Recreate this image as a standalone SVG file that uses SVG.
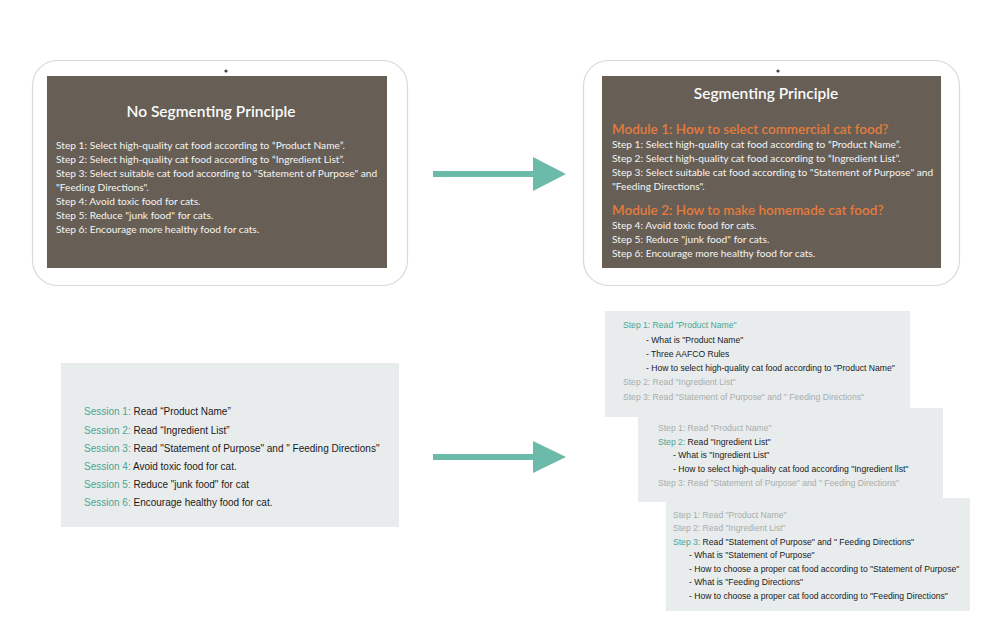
<svg xmlns="http://www.w3.org/2000/svg" width="990" height="620" viewBox="0 0 990 620">
<style>
.tab{fill:#fff;stroke:#d9d9d9;stroke-width:1.2}
.scr{fill:#675f55}
.cam{fill:#444}
.ttl{font-family:Lato,"Open Sans",sans-serif;font-size:15.5px;font-weight:600;fill:#fafafa;text-anchor:middle}
.bd{font-family:Lato,"Open Sans",sans-serif;font-size:10.2px;fill:#f4f4f4}
.mod{font-family:Lato,"Open Sans",sans-serif;font-size:13.5px;font-weight:600;fill:#e47b3c}
.box{fill:#e8eced}
.ss{font-family:"Liberation Sans",Arial,sans-serif;font-size:10px;fill:#1a1a1a}
.cd{font-family:"Liberation Sans",Arial,sans-serif;font-size:8.6px;fill:#1a1a1a}
.tl{fill:#4aa594}
.gr{fill:#a9acac}
.arr{fill:#6bbaaa}
</style>
<rect width="990" height="620" fill="#fff"/>
<g id="tablet-left">
<rect class="tab" x="32.5" y="60.5" width="375" height="225" rx="25"/>
<rect class="scr" x="47" y="76" width="340" height="192"/>
<circle class="cam" cx="226" cy="71" r="1.6"/>
<text class="ttl" x="211" y="117">No Segmenting Principle</text>
<text class="bd" x="56" y="149">Step 1: Select high-quality cat food according to “Product Name”.</text>
<text class="bd" x="56" y="163">Step 2: Select high-quality cat food according to “Ingredient List”.</text>
<text class="bd" x="56" y="177">Step 3: Select suitable cat food according to "Statement of Purpose" and</text>
<text class="bd" x="56" y="191">"Feeding Directions".</text>
<text class="bd" x="56" y="205">Step 4: Avoid toxic food for cats.</text>
<text class="bd" x="56" y="219">Step 5: Reduce "junk food" for cats.</text>
<text class="bd" x="56" y="233">Step 6: Encourage more healthy food for cats.</text>
</g>
<g id="tablet-right">
<rect class="tab" x="583.5" y="60.5" width="376" height="225" rx="25"/>
<rect class="scr" x="602" y="76" width="339" height="192"/>
<circle class="cam" cx="778" cy="71" r="1.6"/>
<text class="ttl" x="766" y="99">Segmenting Principle</text>
<text class="mod" x="612" y="134">Module 1: How to select commercial cat food?</text>
<text class="bd" x="612" y="148">Step 1: Select high-quality cat food according to “Product Name”.</text>
<text class="bd" x="612" y="162">Step 2: Select high-quality cat food according to “Ingredient List”.</text>
<text class="bd" x="612" y="176">Step 3: Select suitable cat food according to "Statement of Purpose" and</text>
<text class="bd" x="612" y="190">"Feeding Directions".</text>
<text class="mod" x="612" y="215">Module 2: How to make homemade cat food?</text>
<text class="bd" x="612" y="229">Step 4: Avoid toxic food for cats.</text>
<text class="bd" x="612" y="243">Step 5: Reduce "junk food" for cats.</text>
<text class="bd" x="612" y="257">Step 6: Encourage more healthy food for cats.</text>
</g>
<g id="sessions">
<rect class="box" x="61" y="363" width="338" height="164"/>
<text class="ss" x="84" y="415"><tspan class="tl">Session 1:</tspan> Read “Product Name”</text>
<text class="ss" x="84" y="433.5"><tspan class="tl">Session 2:</tspan> Read “Ingredient List”</text>
<text class="ss" x="84" y="451.5"><tspan class="tl">Session 3:</tspan> Read "Statement of Purpose" and " Feeding Directions"</text>
<text class="ss" x="84" y="469.5"><tspan class="tl">Session 4:</tspan> Avoid toxic food for cat.</text>
<text class="ss" x="84" y="488"><tspan class="tl">Session 5:</tspan> Reduce "junk food" for cat</text>
<text class="ss" x="84" y="506"><tspan class="tl">Session 6:</tspan> Encourage healthy food for cat.</text>
</g>
<g id="card-1">
<rect class="box" x="605" y="311" width="305" height="106"/>
<text class="cd tl" x="623" y="328">Step 1: Read "Product Name"</text>
<text class="cd" x="646" y="342.5">- What is "Product Name"</text>
<text class="cd" x="646" y="357">- Three AAFCO Rules</text>
<text class="cd" x="646" y="371">- How to select high-quality cat food according to "Product Name"</text>
<text class="cd gr" x="623" y="385">Step 2: Read "Ingredient List"</text>
<text class="cd gr" x="623" y="399.5">Step 3: Read "Statement of Purpose" and " Feeding Directions"</text>
</g>
<g id="card-2">
<rect class="box" x="638" y="408" width="305" height="94"/>
<text class="cd gr" x="658" y="430.5">Step 1: Read "Product Name"</text>
<text class="cd" x="658" y="444.5"><tspan class="tl">Step 2:</tspan> Read "Ingredient List"</text>
<text class="cd" x="673" y="458">- What is "Ingredient List"</text>
<text class="cd" x="673" y="472">- How to select high-quality cat food according "Ingredient llst"</text>
<text class="cd gr" x="658" y="486">Step 3: Read "Statement of Purpose" and " Feeding Directions"</text>
</g>
<g id="card-3">
<rect class="box" x="666" y="498" width="304" height="113"/>
<text class="cd gr" x="673" y="518">Step 1: Read "Product Name"</text>
<text class="cd gr" x="673" y="531">Step 2: Read "Ingredient List"</text>
<text class="cd" x="673" y="545"><tspan class="tl">Step 3:</tspan> Read "Statement of Purpose" and " Feeding Directions"</text>
<text class="cd" x="689" y="558">- What is "Statement of Purpose"</text>
<text class="cd" x="689" y="571.5">- How to choose a proper cat food according to "Statement of Purpose"</text>
<text class="cd" x="689" y="585">- What is "Feeding Directions"</text>
<text class="cd" x="689" y="598.5">- How to choose a proper cat food according to "Feeding Directions"</text>
</g>
<g id="connectors">
<rect class="arr" x="433" y="171" width="102" height="6"/>
<polygon class="arr" points="533,157 566,174 533,191"/>
<rect class="arr" x="433" y="454" width="102" height="6"/>
<polygon class="arr" points="533,441 566,457 533,473"/>
</g>
</svg>
